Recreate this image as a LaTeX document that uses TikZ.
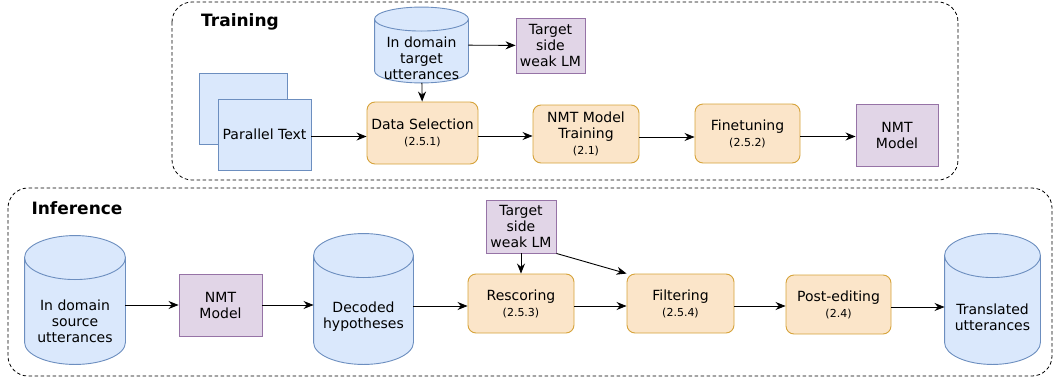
\documentclass[tikz,border=0pt]{standalone}
\usepackage{fontspec}
\setmainfont{DejaVu Sans}
\usetikzlibrary{arrows.meta,calc}

\definecolor{procfill}{HTML}{FBE5C9}
\definecolor{procdraw}{HTML}{D6A33A}
\definecolor{modelfill}{HTML}{E1D5E7}
\definecolor{modeldraw}{HTML}{9673A6}
\definecolor{storefill}{HTML}{DAE8FC}
\definecolor{storedraw}{HTML}{6C8EBF}

\newcommand{\secno}[1]{{\fontsize{11}{12.5}\selectfont #1}}
% cylinder outline round a store node: name, cap radius
\newcommand{\drum}[2]{%
  \path let \p1=(#1.north west), \p2=(#1.south east), \n1={0.5*(\x2-\x1)} in
    [draw=storedraw, fill=storefill, -]
    (\x1,\y1-#2) -- (\x1,\y2+#2)
      arc[start angle=180, end angle=360, x radius=\n1, y radius=#2]
      -- (\x2,\y1-#2)
      arc[start angle=0, end angle=180, x radius=\n1, y radius=#2] -- cycle
    (\x1,\y1-#2) arc[start angle=180, end angle=360, x radius=\n1, y radius=#2];}

\begin{document}
\begin{tikzpicture}[x=1pt,y=-1pt,->,>={Stealth[length=10pt,width=8pt]},line width=0.9pt,
    every node/.style={font=\fontsize{14}{16}\selectfont, inner sep=0pt},
    proc/.style={draw=procdraw, fill=procfill, rounded corners=8pt, align=center},
    model/.style={draw=modeldraw, fill=modelfill, align=center},
    store/.style={rectangle},
    doc/.style={draw=storedraw, fill=storefill, align=center},
    phase/.style={draw, -, line width=0.8pt, dash pattern=on 3.5pt off 2.5pt, rounded corners=20pt},
    ttl/.style={font=\bfseries\fontsize{17}{19}\selectfont}]
  \useasboundingbox (0,0) rectangle (1055,378);

  % training
  \draw[phase] (172,2) rectangle (958,180);
  \node[ttl] (train_ttl) at (240,22) {Training};

  \node[store,minimum width=93pt,minimum height=75pt] (tgt) at (421.5,45) {};
  \drum{tgt}{12pt}
  \node[align=center] (tgt_txt) at ([yshift=-13pt]tgt.center) {In domain\\target\\utterances};
  \node[model,minimum width=69pt,minimum height=55pt] (tgt_lm) at (550.5,45.5) {Target\\side\\weak LM};
  \node[doc,minimum width=88pt,minimum height=71pt] (ptext_back) at (243,108.5) {};
  \node[doc,minimum width=93pt,minimum height=71pt] (ptext) at (264.5,134.5) {Parallel Text};
  \node[proc,minimum width=111pt,minimum height=62pt] (dsel) at (422.5,133) {Data Selection\\\secno{(2.5.1)}};
  \node[proc,minimum width=106pt,minimum height=58pt] (train) at (586,134) {NMT Model\\Training\\\secno{(2.1)}};
  \node[proc,minimum width=105pt,minimum height=59pt] (fine) at (747.5,133.5) {Finetuning\\\secno{(2.5.2)}};
  \node[model,minimum width=82pt,minimum height=62pt] (nmt_t) at (897,135) {NMT\\Model};

  \draw (tgt) -- (tgt_lm);
  \draw (tgt) -- (dsel);
  \draw ([yshift=-2pt]ptext.east) -- ([yshift=-2pt]ptext.east -| dsel.west);
  \draw ([yshift=-3pt]dsel.east) -- ([yshift=-3pt]dsel.east -| train.west);
  \draw ([yshift=-3pt]train.east) -- ([yshift=-3pt]train.east -| fine.west);
  \draw ([yshift=-3pt]fine.east) -- ([yshift=-3pt]fine.east -| nmt_t.west);

  % inference
  \draw[phase] (8,188) rectangle (1052,376);
  \node[ttl] (inf_ttl) at (77,208) {Inference};

  \node[store,minimum width=100pt,minimum height=128pt] (src) at (75,300) {};
  \drum{src}{22pt}
  \node[align=center] (src_txt) at ([yshift=-21pt]src.center) {In domain\\source\\utterances};
  \node[model,minimum width=83pt,minimum height=62pt] (nmt_i) at (220.5,305) {NMT\\Model};
  \node[store,minimum width=99pt,minimum height=130pt] (dec) at (363.5,299) {};
  \drum{dec}{22pt}
  \node[align=center] (dec_txt) at ([yshift=-18pt]dec.center) {Decoded\\hypotheses};
  \node[model,minimum width=70pt,minimum height=53pt] (inf_lm) at (521,226.5) {Target\\side\\weak LM};
  \node[proc,minimum width=106pt,minimum height=59pt] (resc) at (521,303.5) {Rescoring\\\secno{(2.5.3)}};
  \node[proc,minimum width=107pt,minimum height=59pt] (filt) at (680.5,303.5) {Filtering\\\secno{(2.5.4)}};
  \node[proc,minimum width=105pt,minimum height=59pt] (post) at (838.5,304.5) {Post-editing\\\secno{(2.4)}};
  \node[store,minimum width=95pt,minimum height=130pt] (trans) at (992.5,299) {};
  \drum{trans}{22pt}
  \node[align=center] (trans_txt) at ([yshift=-18pt]trans.center) {Translated\\utterances};

  \draw (nmt_i.west -| src.east) -- (nmt_i.west);
  \draw (nmt_i.east) -- (nmt_i.east -| dec.west);
  \draw ([yshift=-2.5pt]resc.west -| dec.east) -- ([yshift=-2.5pt]resc.west);
  \draw (inf_lm) -- (resc);
  \draw (inf_lm.south east) -- (filt.north west);
  \draw ([yshift=-2.5pt]resc.east) -- ([yshift=-2.5pt]resc.east -| filt.west);
  \draw ([yshift=-2.5pt]filt.east) -- ([yshift=-2.5pt]filt.east -| post.west);
  \draw ([yshift=-2.5pt]post.east) -- ([yshift=-2.5pt]post.east -| trans.west);
\end{tikzpicture}
\end{document}
